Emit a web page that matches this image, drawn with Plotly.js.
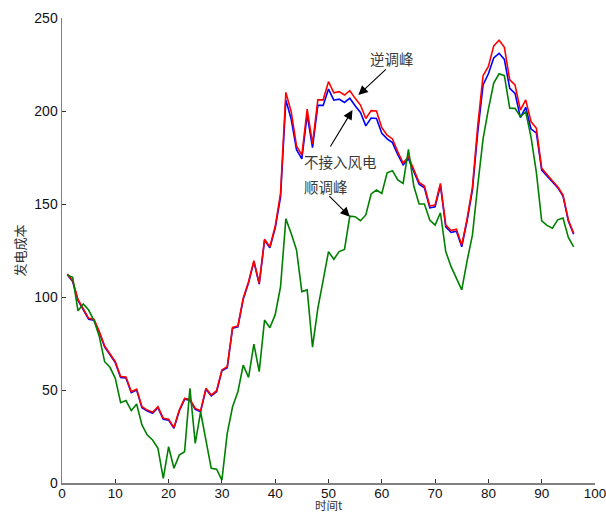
<!DOCTYPE html>
<html>
<head>
<meta charset="utf-8">
<script src="https://cdn.plot.ly/plotly-3.0.1.min.js"></script>
<style>html,body{margin:0;padding:0;background:#fff;}#chart{width:606px;height:514px;}</style>
</head>
<body>
<div id="chart"></div>
<script>
var timeSteps = [];
for (var i = 1; i <= 96; i++) timeSteps.push(i);

var reversePeak = [112.4,108.8,98.7,93.9,88.5,88,81.4,73.7,69.7,65.2,57.2,57,49.1,50.5,41,39.2,38,41,34.8,34.3,
29.9,39.2,45.5,45,40.1,38.9,50.9,47.3,49.6,60.8,62.5,83.7,84.4,99.3,108.2,119.5,107.4,131,127,138,
155.7,210,199.6,181.2,176.3,201,182.3,206,206,215.8,209.8,210.4,208.6,210.9,206.8,203.2,196,200.2,200,191,
187,185,178,172,175.4,168.3,161.6,159.7,148.9,149.5,161.1,138.7,135.7,136.4,128,142,159,192,219,224,
235,238,234.2,216.7,214,200.5,206,194.3,190.7,169.2,165.6,162.5,159.3,154.8,141.4,134.2];

var noWind = [112,108.3,98.2,93.4,88,87.5,80.9,73.2,69.2,64.7,56.7,56.5,48.6,50,40.5,38.7,37.5,40.5,34.3,33.8,
29.4,38.7,45,44.5,39.6,38.4,50.4,46.8,49.1,60.3,62,83.2,83.9,98.8,107.7,119,106.9,130.5,126.5,137,
153.7,206,195.6,179.2,174.3,198,180.3,203,203,211.8,205.8,206.4,204.6,206.9,202.8,199.2,192,196.2,196,188,
185,183,176.5,171,174.4,167.3,160.6,158.7,147.9,148.5,160.1,137.7,134.7,135.4,127,141,157.5,188.5,214,220,
228.5,231,227.7,212.2,209.5,196.5,202,190.3,188.2,168.2,165.1,162,158.8,154.3,140.9,133.7];

var forwardPeak = [111.8,110.6,92.6,96.2,93,87.3,78.7,65.2,62.2,56.3,43.2,44.3,38.9,42.5,31.2,25.8,23.1,18.6,2.5,19.5,
7.9,15,16.8,50.9,21.3,38.3,23.1,7.9,7.4,1.5,26.7,41,49.1,63.4,56.8,74.7,59.9,87.6,83.5,90.5,
105.5,142,134.2,125.3,102.9,103.8,73,93.9,109.1,124.4,120.3,124.4,125.6,143.5,143.2,141,144.1,155.4,157.5,155.7,
166.8,167.9,162.9,161.1,179.4,159.7,150,150,141.4,138.7,145.3,124.4,116.3,110,103.8,119.4,133.3,160,185,201,
215,220,219,201.5,201.4,197,199.5,186,167,141,138.5,137,141.5,142.5,132,127];

var xTicks = [0,10,20,30,40,50,60,70,80,90,100];
var yTicks = [0,50,100,150,200,250];

var cjk = '"Noto Sans CJK SC", sans-serif';
var num = 'Arial, "Liberation Sans", sans-serif';

var traces = [
  {x: timeSteps, y: noWind, type: 'scatter', mode: 'lines', name: '不接入风电', line: {color: '#0000ff', width: 1.6}},
  {x: timeSteps, y: reversePeak, type: 'scatter', mode: 'lines', name: '逆调峰', line: {color: '#ff0000', width: 1.6}},
  {x: timeSteps, y: forwardPeak, type: 'scatter', mode: 'lines', name: '顺调峰', line: {color: '#008000', width: 1.6}}
];

var txtFont = {family: cjk, size: 14.5, color: '#3a3a3a'};
var arrowStyle = {xref: 'x', yref: 'y', text: '', showarrow: true, arrowhead: 2, arrowsize: 1.7, arrowwidth: 1.1, arrowcolor: '#000'};
function arrow(x, y, ax, ay) { return Object.assign({x: x, y: y, ax: ax, ay: ay}, arrowStyle); }

var layout = {
  width: 606, height: 514,
  margin: {l: 62, r: 11, t: 18, b: 31},
  paper_bgcolor: '#ffffff', plot_bgcolor: '#ffffff',
  showlegend: false,
  xaxis: {
    range: [0, 100], tickvals: xTicks, ticktext: xTicks.map(String),
    ticks: 'inside', ticklen: 4, tickwidth: 1, tickcolor: '#333',
    showline: true, linecolor: '#808080', linewidth: 1.5,
    showgrid: false, zeroline: false, automargin: false, ticklabeloverflow: 'allow',
    ticklabelstandoff: -3,
    tickfont: {family: num, size: 13.5, color: '#111'}
  },
  yaxis: {
    range: [0, 250], tickvals: yTicks, ticktext: yTicks.map(String),
    ticks: 'inside', ticklen: 4, tickwidth: 1, tickcolor: '#333',
    showline: true, linecolor: '#808080', linewidth: 1.5,
    showgrid: false, zeroline: false, automargin: false, ticklabeloverflow: 'allow',
    tickfont: {family: num, size: 14, color: '#111'},
    title: {text: '发电成本', font: {family: cjk, size: 13, color: '#333'}, standoff: 6}
  },
  annotations: [
    arrow(55.6, 208.6, 29, -27),
    arrow(54.5, 200.5, -23, 38),
    arrow(54.0, 143.2, -22, -22),
    {x: (392 - 62) / 5.33, y: (483 - 58) / 1.86, xref: 'x', yref: 'y', text: '逆调峰', showarrow: false, font: txtFont},
    {x: (340 - 62) / 5.33, y: (483 - 161) / 1.86, xref: 'x', yref: 'y', text: '不接入风电', showarrow: false, font: txtFont},
    {x: (326 - 62) / 5.33, y: (483 - 186) / 1.86, xref: 'x', yref: 'y', text: '顺调峰', showarrow: false, font: txtFont},
    {x: 0.5, y: (483 - 514) / 465, xref: 'paper', yref: 'paper', xanchor: 'center', yanchor: 'bottom', borderpad: 0, text: '时间t', showarrow: false, font: {family: cjk, size: 11.5, color: '#333'}}
  ]
};

Plotly.newPlot('chart', traces, layout, {displayModeBar: false, staticPlot: true});
</script>
</body>
</html>
